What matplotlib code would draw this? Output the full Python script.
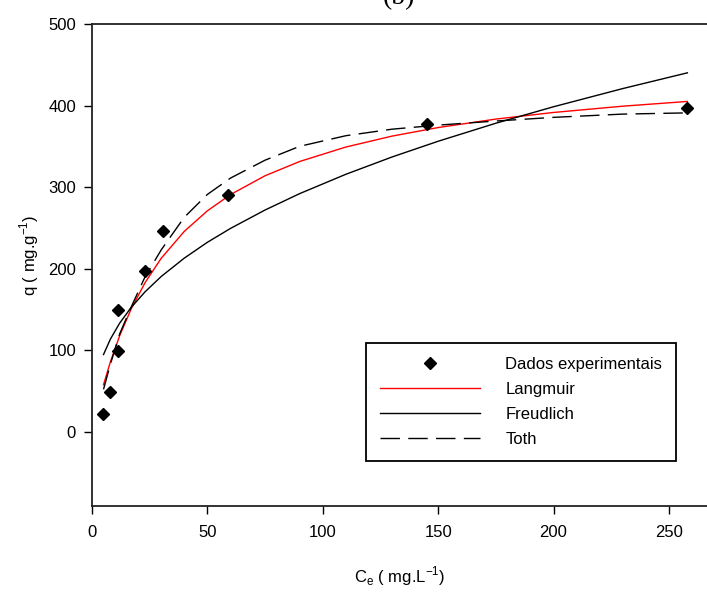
import matplotlib
matplotlib.use("Agg")
import matplotlib.pyplot as plt

plt.rcParams['font.family'] = ['Liberation Sans', 'DejaVu Sans']

# experimental points
ce_exp = [4.6, 7.8, 11.4, 11.4, 22.9, 30.9, 59.0, 145.0, 257.7]
q_exp = [22, 49, 99, 149, 197, 246, 290, 377, 397]

# isotherm curves
ce_fit = [5, 8, 12, 17, 23, 30, 40, 50, 60, 75, 90, 110, 130, 150, 175, 200, 230, 258]
q_langmuir = [57.7, 85.8, 117.8, 150.7, 182.8, 212.7, 245.7, 270.9, 290.8, 313.9,
              331.4, 349.1, 362.5, 373.0, 383.4, 391.5, 399.2, 405.0]
q_freundlich = [94.7, 113.7, 133.2, 152.5, 171.6, 190.4, 212.9, 232.3, 249.3, 271.9,
                292.0, 315.7, 336.9, 356.2, 378.3, 398.5, 420.8, 440.1]
q_toth = [52, 83, 120, 153, 190, 223, 263, 291, 311, 333,
          350, 363, 371, 376, 381, 385.5, 389.5, 391]

xticks = [0, 50, 100, 150, 200, 250]
yticks = [0, 100, 200, 300, 400, 500]

fig = plt.figure(figsize=(7.07, 5.92), dpi=100)
ax = fig.add_axes([0.1301, 0.1453, 0.8699, 0.8142])

ax.plot(ce_exp, q_exp, linestyle='none', marker='D', markersize=6.5,
        color='black', label='Dados experimentais', zorder=5)
ax.plot(ce_fit, q_langmuir, color='red', lw=1.0, label='Langmuir')
ax.plot(ce_fit, q_freundlich, color='black', lw=1.0, label='Freudlich')
ax.plot(ce_fit, q_toth, color='black', lw=1.0, dashes=(14, 6), label='Toth')

ax.set_xlim(0, 266.5)
ax.set_ylim(-91, 500)
ax.set_xticks(xticks)
ax.set_yticks(yticks)
ax.tick_params(direction='out', length=5.5, width=1.0, labelsize=12, pad=6)
ax.tick_params(axis='x', pad=8)

for side in ['left', 'bottom', 'top']:
    ax.spines[side].set_linewidth(1.3)
    ax.spines[side].set_color('#222222')
ax.spines['right'].set_visible(False)

ax.set_xlabel('C$_\\mathregular{e}$ ( mg.L$^\\mathregular{-1}$)', fontsize=12)
ax.set_ylabel('q ( mg.g$^\\mathregular{-1}$)', fontsize=12)
ax.xaxis.set_label_coords(0.5, -0.122)
ax.yaxis.set_label_coords(-0.083, 0.52)

leg = ax.legend(loc='upper left', bbox_to_anchor=(0.4455, 0.338), fontsize=12,
                numpoints=1, handlelength=6.0, handletextpad=1.5,
                labelspacing=0.6, borderpad=0.85, borderaxespad=0,
                fancybox=False, framealpha=1, edgecolor='black')
leg.get_frame().set_linewidth(1.3)

fig.text(0.564, 0.993, '(b)', fontsize=20, family='Liberation Serif',
         ha='center', va='baseline')

fig.savefig('out.png', dpi=100)
